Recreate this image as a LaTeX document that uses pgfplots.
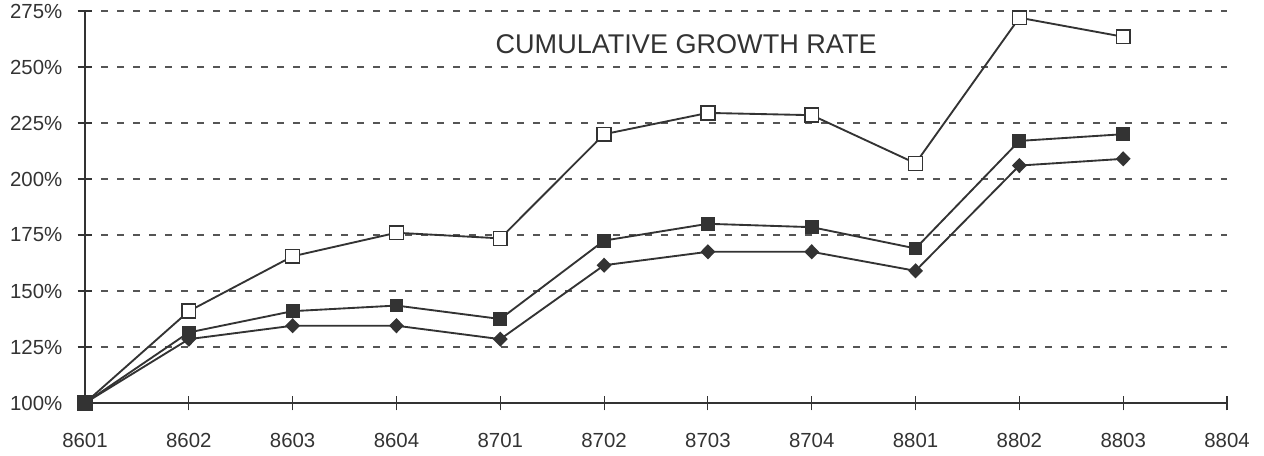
\documentclass[border=0pt]{standalone}
\usepackage{fontspec}
\setmainfont{Liberation Sans}
\usepackage{pgfplots}
\pgfplotsset{compat=1.18}
\definecolor{ink}{HTML}{333333}
\definecolor{gridc}{HTML}{555555}
\begin{document}
\begin{tikzpicture}
\useasboundingbox (-63.75pt,-39.75pt) rectangle (884.25pt,302.25pt);
\begin{axis}[
 scale only axis, width=856.5pt, height=294pt,
 xmin=0, xmax=11, ymin=100, ymax=275,
 axis x line*=bottom, axis y line*=left,
 axis line style={ink, line width=1pt},
 xtick={0,...,11},
 xticklabels={8601,8602,8603,8604,8701,8702,8703,8704,8801,8802,8803,8804},
 ytick={100,125,...,275},
 yticklabels={100\%,125\%,150\%,175\%,200\%,225\%,250\%,275\%},
 tick align=center, major tick length=11pt,
 tick style={ink, line width=0.8pt},
 ymajorgrids, grid style={gridc, line width=1pt, dash pattern=on 5pt off 7pt},
 ticklabel style={font=\fontsize{15.3}{18}\selectfont, text=ink},
 xticklabel style={yshift=-13.5pt},
 yticklabel style={xshift=-8pt},
 clip=false,
]
\addplot[ink, line width=1.4pt, mark=square*, mark size=5.2pt, mark options={fill=white, solid, line width=1.1pt}] coordinates {
(0,100)(1,141)(2,165.5)(3,176)(4,173.5)(5,220)(6,229.5)(7,228.5)(8,207)(9,272)(10,263.5)};
\addplot[ink, line width=1.4pt, mark=square*, mark size=4.5pt, mark options={fill=ink, solid}] coordinates {
(0,100)(1,131.5)(2,141)(3,143.5)(4,137.5)(5,172.5)(6,180)(7,178.5)(8,169)(9,217)(10,220)};
\addplot[ink, line width=1.4pt, mark=diamond*, mark size=4.7pt, mark options={fill=ink, solid, xscale=1.3}] coordinates {
(0,100)(1,128.5)(2,134.5)(3,134.5)(4,128.5)(5,161.5)(6,167.5)(7,167.5)(8,159)(9,206)(10,209)};
\node[font=\fontsize{20.3}{24}\selectfont, text=ink] at (axis cs:5.79,260.3) {CUMULATIVE GROWTH RATE};
\end{axis}
\end{tikzpicture}
\end{document}
